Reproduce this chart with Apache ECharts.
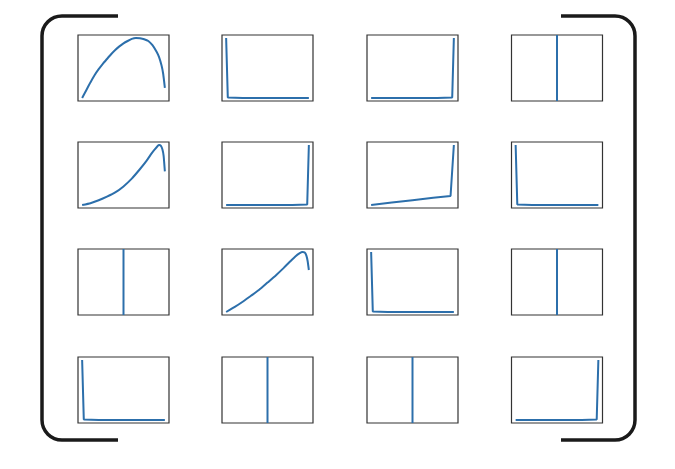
<!DOCTYPE html>
<html>
<head>
<meta charset="utf-8">
<script src="https://cdn.jsdelivr.net/npm/echarts@6/dist/echarts.min.js"></script>
<style>html,body{margin:0;padding:0;background:#fff;}#c{width:675px;height:469px;}</style>
</head>
<body>
<div id="c"></div>
<script>
// Normalised [x, y] samples per panel (row, column)
const p11 = [[0,0],[0.05,0.13],[0.1,0.26],[0.15,0.38],[0.2,0.48],[0.25,0.57],[0.3,0.65],[0.35,0.73],[0.4,0.8],[0.45,0.86],[0.5,0.91],[0.55,0.95],[0.6,0.985],[0.65,1.0],[0.7,0.995],[0.75,0.98],[0.8,0.95],[0.85,0.88],[0.9,0.77],[0.93,0.68],[0.96,0.54],[0.98,0.4],[1.0,0.17]];
const p12 = [[0,1],[0.02,0.01],[0.2,0],[1,0]];
const p13 = [[0,0],[0.8,0],[0.98,0.01],[1,1]];
const p14 = [[0.5,-0.05],[0.5,1.05]];
const p21 = [[0,0],[0.1,0.03],[0.2,0.08],[0.3,0.14],[0.4,0.21],[0.5,0.31],[0.6,0.44],[0.7,0.6],[0.78,0.74],[0.84,0.86],[0.88,0.93],[0.91,0.98],[0.93,1.0],[0.95,0.99],[0.97,0.93],[0.985,0.82],[1.0,0.56]];
const p22 = [[0,0],[0.8,0],[0.98,0.01],[1,1]];
const p23 = [[0,0],[0.25,0.04],[0.5,0.08],[0.75,0.12],[0.96,0.15],[0.98,0.18],[1,1]];
const p24 = [[0,1],[0.02,0.01],[0.2,0],[1,0]];
const p31 = [[0.5,-0.05],[0.5,1.05]];
const p32 = [[0,0],[0.1,0.08],[0.2,0.17],[0.3,0.27],[0.4,0.37],[0.5,0.49],[0.6,0.61],[0.7,0.74],[0.78,0.85],[0.84,0.93],[0.89,0.98],[0.92,1.0],[0.95,0.99],[0.97,0.94],[0.985,0.85],[1.0,0.7]];
const p33 = [[0,1],[0.02,0.01],[0.2,0],[1,0]];
const p34 = [[0.5,-0.05],[0.5,1.05]];
const p41 = [[0,1],[0.02,0.01],[0.2,0],[1,0]];
const p42 = [[0.5,-0.05],[0.5,1.05]];
const p43 = [[0.5,-0.05],[0.5,1.05]];
const p44 = [[0,0],[0.8,0],[0.98,0.01],[1,1]];

const panels = [p11,p12,p13,p14,p21,p22,p23,p24,p31,p32,p33,p34,p41,p42,p43,p44];
const smoothPanels = [p11,p21,p32];

const colLeft = [78,222,367,511.5];
const rowTop = [35,142,249,357];
const W = 91, H = 66;

const grid = [], xAxis = [], yAxis = [], series = [];
panels.forEach((d,i)=>{
  const r = Math.floor(i/4), c = i%4;
  grid.push({left:colLeft[c], top:rowTop[r], width:W, height:H, show:true, borderColor:'#333', borderWidth:1.2, backgroundColor:'transparent'});
  xAxis.push({type:'value', gridIndex:i, min:-0.05, max:1.05, show:false});
  yAxis.push({type:'value', gridIndex:i, min:-0.05, max:1.05, show:false});
  series.push({type:'line', xAxisIndex:i, yAxisIndex:i, data:d, showSymbol:false, smooth: smoothPanels.includes(d) ? 0.15 : false,
    lineStyle:{color:'#2c6fab', width:2}, animation:false, silent:true});
});

const bc = '#1a1a1a', bw = 3.5, R = 20;
const L = 42, Rx = 635, T = 16, B = 440, tipL = 118, tipR = 561;
const st = {stroke:bc, lineWidth:bw, fill:null};
const graphic = [
  {type:'line', shape:{x1:L+R, y1:T, x2:tipL, y2:T}, style:st},
  {type:'line', shape:{x1:L, y1:T+R, x2:L, y2:B-R}, style:st},
  {type:'line', shape:{x1:L+R, y1:B, x2:tipL, y2:B}, style:st},
  {type:'arc', shape:{cx:L+R, cy:T+R, r:R, startAngle:Math.PI, endAngle:1.5*Math.PI, clockwise:true}, style:st},
  {type:'arc', shape:{cx:L+R, cy:B-R, r:R, startAngle:0.5*Math.PI, endAngle:Math.PI, clockwise:true}, style:st},
  {type:'line', shape:{x1:tipR, y1:T, x2:Rx-R, y2:T}, style:st},
  {type:'line', shape:{x1:Rx, y1:T+R, x2:Rx, y2:B-R}, style:st},
  {type:'line', shape:{x1:tipR, y1:B, x2:Rx-R, y2:B}, style:st},
  {type:'arc', shape:{cx:Rx-R, cy:T+R, r:R, startAngle:-0.5*Math.PI, endAngle:0, clockwise:true}, style:st},
  {type:'arc', shape:{cx:Rx-R, cy:B-R, r:R, startAngle:0, endAngle:0.5*Math.PI, clockwise:true}, style:st}
];

const chart = echarts.init(document.getElementById('c'), null, {renderer:'canvas'});
chart.setOption({animation:false, backgroundColor:'#fff', grid, xAxis, yAxis, series, graphic});
</script>
</body>
</html>
